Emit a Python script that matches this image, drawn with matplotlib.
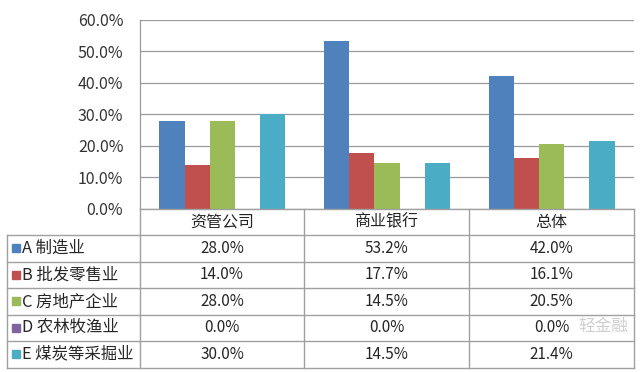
import numpy as np
import matplotlib.pyplot as plt
from matplotlib.ticker import FuncFormatter

plt.rcParams['font.family'] = ['Noto Sans CJK SC', 'DejaVu Sans']

categories = ['资管公司', '商业银行', '总体']
series_names = ['A 制造业', 'B 批发零售业', 'C 房地产企业', 'D 农林牧渔业', 'E 煤炭等采掘业']
manufacturing = [28.0, 53.2, 42.0]
wholesale = [14.0, 17.7, 16.1]
real_estate = [28.0, 14.5, 20.5]
agriculture = [0.0, 0.0, 0.0]
mining = [30.0, 14.5, 21.4]
yticks = [0, 10, 20, 30, 40, 50, 60]

series = [manufacturing, wholesale, real_estate, agriculture, mining]
colors = ['#4F81BD', '#C0504D', '#9BBB59', '#8064A2', '#4BACC6']

W, H = 640, 372
fig = plt.figure(figsize=(W / 100, H / 100), dpi=100)

# plot area in pixel coords
left, right, top, bottom = 140, 634, 19.5, 209
ax = fig.add_axes([left / W, 1 - bottom / H, (right - left) / W, (bottom - top) / H])
x = np.arange(len(categories))
bw = 0.153
for i, vals in enumerate(series):
    ax.bar(x + (i - 2) * bw, vals, width=bw, color=colors[i], zorder=3)
ax.set_xlim(-0.5, len(categories) - 0.5)
ax.set_ylim(0, 60)
ax.set_yticks(yticks)
ax.yaxis.set_major_formatter(FuncFormatter(lambda v, p: f'{v:.1f}%'))
ax.tick_params(axis='y', length=0, pad=12, labelsize=11.5, labelcolor='#333333')
ax.set_xticks([])
ax.grid(axis='y', color='#9A9A9A', linewidth=0.9, zorder=0)
for s in ['top', 'right', 'bottom']:
    ax.spines[s].set_visible(False)
ax.spines['left'].set_color('#9A9A9A')
ax.spines['left'].set_linewidth(0.9)

# data table below the plot, drawn in pixel coords
tab = fig.add_axes([0, 0, 1, 1], facecolor='none')
tab.set_xlim(0, W)
tab.set_ylim(H, 0)
tab.axis('off')
line_kw = dict(color='#A0A0A0', linewidth=1.0)
col_edges = [left, 304, 469, right]
row_edges = [bottom, 235, 261.5, 288, 314.5, 341, 367.5]
label_left = 7

tab.plot([left, right], [row_edges[0]] * 2, **line_kw)
for y in row_edges[1:]:
    tab.plot([label_left, right], [y, y], **line_kw)
for cx in col_edges:
    tab.plot([cx, cx], [row_edges[0], row_edges[-1]], **line_kw)
tab.plot([label_left, label_left], [row_edges[1], row_edges[-1]], **line_kw)

for j, cat in enumerate(categories):
    cx = (col_edges[j] + col_edges[j + 1]) / 2
    tab.text(cx, (row_edges[0] + row_edges[1]) / 2, cat, ha='center', va='center',
             fontsize=11.5, color='#262626')

for i, name in enumerate(series_names):
    cy = (row_edges[i + 1] + row_edges[i + 2]) / 2
    tab.add_patch(plt.Rectangle((12, cy - 4), 8, 8, color=colors[i]))
    tab.text(22, cy, name, ha='left', va='center', fontsize=11.8, color='#262626')
    for j in range(len(categories)):
        cx = (col_edges[j] + col_edges[j + 1]) / 2
        tab.text(cx, cy, f'{series[i][j]:.1f}%', ha='center', va='center',
                 fontsize=11, color='#262626')

# watermark
tab.text(603, 326, '轻金融', ha='center', va='center', fontsize=12, color='#CFCFCF')

fig.savefig('out.png', dpi=100, facecolor='white')
